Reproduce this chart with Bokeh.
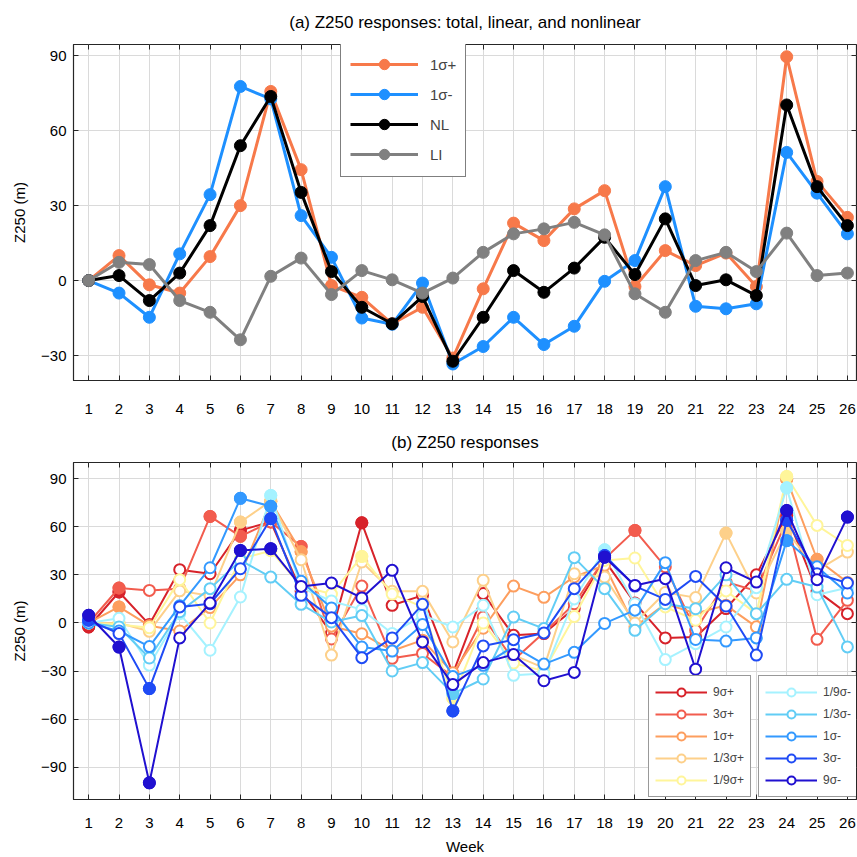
from bokeh.plotting import figure
from bokeh.models import (ColumnDataSource, Legend, LegendItem, LinearAxis, FixedTicker, Range1d)
from bokeh.layouts import column
from bokeh.embed import file_html
from bokeh.resources import INLINE

FONT = "Liberation Sans"

weeks = list(range(1, 27))

# ---------- panel (a) ----------
a_title = "(a) Z250 responses: total, linear, and nonlinear"
a_1sp = [0, 10, -1.7, -5, 9.6, 30, 75.7, 44.4, -2, -6.7, -17.3, -10.7, -31, -3.3, 23, 16, 28.7, 36, -2.4, 12, 6, 11, -2.4, 89.6, 39.7, 25.3]
a_1sm = [0, -5, -14.7, 10.7, 34.4, 77.7, 72.7, 26, 9.3, -15, -17.5, -1, -33.4, -26.4, -14.7, -25.6, -18.3, -0.3, 8, 37.6, -10.3, -11.3, -9.3, 51.3, 35, 18.7]
a_nl = [0, 2, -8, 3, 22, 54, 73.7, 35.3, 3.6, -10.7, -17.3, -6.4, -32.3, -14.7, 4, -4.7, 5, 17.3, 2.4, 24.7, -2, 0.3, -6, 70.3, 37.6, 22]
a_li = [0, 7.3, 6.4, -8, -12.7, -23.7, 1.7, 9, -5.6, 4, 0.3, -5, 1, 11.3, 18.7, 20.7, 23.3, 18.3, -5.3, -12.7, 8, 11.3, 3.6, 19, 2, 3]
a_names = ["1σ+", "1σ-", "NL", "LI"]
a_colors = ["#F7794A", "#1E90FF", "#000000", "#808080"]

# ---------- panel (b) ----------
b_title = "(b) Z250 responses"
b_names = ["9σ+", "3σ+", "1σ+", "1/3σ+", "1/9σ+", "1/9σ-", "1/3σ-", "1σ-", "3σ-", "9σ-"]
b_colors = ["#D7222A", "#F25C4E", "#FD9E5E", "#FDD08A", "#FFF59A",
            "#A5F2FF", "#62CDF5", "#3399FF", "#1F4BF5", "#2010D0"]
b_9p = [-2.5, 19.3, -1, 33.2, 30.7, 57.7, 63, 20, -6.4, 62.4, 11, 17.2, -31.5, 18.3, -7.7, -6.6, 9, 39, 12.4, -9.3, -8.7, 9, 30, 67, 20, 5.8]
b_3p = [0, 21.8, 20.3, 21.4, 66.4, 54, 63, 47.7, -10, 23, -22, -19, -33.6, 3.7, -23.2, -6, 12, 40, 57.7, 35, -4.6, 25.5, 20, 64, -10.2, 14.1]
b_1p = a_1sp
b_13p = [0, 0, -5.2, 20, 17, 62.9, 76, 39.4, -20, 38, 19.7, 19.7, -11.8, 26.6, -20, -28, 30.7, 28.6, 0, 19, 15.8, 56, 18.7, 57.3, 32.8, 44.2]
b_19p = [0, -1, -3, 27, 0, 40, 45, 23, 18, 41.5, 18, 10, -47, 0, -25, -30, 4, 39, 40.5, 10, 1.7, 20, 5.8, 91.3, 60.8, 48.3]
b_19m = [0, 2.9, -26.3, 5.8, -17, 16.2, 79.5, 22, 13.7, 8.3, -6.6, 4.8, -2.5, 11, -32.6, -31.5, 15, 45.6, 12, -22.8, -12.9, -2.5, 22, 84.2, 17.6, 22]
b_13m = [0, -2.5, -21.8, 7, 21.4, 39, 28.6, 11.6, 0.6, 4.6, -29.9, -24.7, -44, -34.9, 3.7, -3.5, 40.7, 21.4, -4.6, 12, 8.9, 30, 5.8, 27.2, 22.4, -14.9]
b_1m = a_1sm
b_3m = [1.7, -6.6, -40.9, 10, 12, 33.8, 65, 17.2, 3.3, -21.6, -9.3, 11.6, -54.8, -14.3, -10.4, -6.2, 21.4, 42, 23, 14.7, 29, 10.6, -20, 63.9, 30.7, 24.9]
b_9m = [4.8, -15, -99.6, -9.3, 12.4, 45.2, 46.3, 22.8, 24.9, 15.6, 32.8, -11.8, -38.4, -24.7, -19.7, -36, -30.8, 41, 23.4, 27.6, -28.8, 34.4, 25.5, 70.1, 27, 66]
b_values = [b_9p, b_3p, b_1p, b_13p, b_19p, b_19m, b_13m, b_1m, b_3m, b_9m]
# weeks with significant (filled) markers
b_sig = [[1, 2, 6, 10, 18, 24], [2, 5, 6, 8, 19], [2, 7, 8, 24, 25], [6, 7, 22, 24], [10, 13, 24],
         [7, 18, 24], [13], [6, 7, 24], [1, 3, 7, 13, 18, 24], [1, 2, 3, 6, 7, 18, 24, 26]]

a_yticks = [-30, 0, 30, 60, 90]
b_yticks = [-90, -60, -30, 0, 30, 60, 90]


def style(p, yticks, xstandoff, title_standoff, xlabel=None):
    p.outline_line_color = "#262626"
    p.outline_line_width = 1.2
    p.xgrid.ticker = FixedTicker(ticks=weeks)
    p.ygrid.ticker = FixedTicker(ticks=yticks)
    for g in (p.xgrid[0], p.ygrid[0]):
        g.grid_line_color = "#DADADA"
        g.grid_line_width = 1
    xa = p.xaxis[0]
    ya = p.yaxis[0]
    xa.ticker = FixedTicker(ticks=weeks)
    xa.major_label_standoff = xstandoff
    if xlabel:
        xa.axis_label = xlabel
        xa.axis_label_standoff = 7
    ya.ticker = FixedTicker(ticks=yticks)
    ya.major_label_standoff = 7
    ya.axis_label = "Z250 (m)"
    ya.axis_label_standoff = 10
    for ax in (xa, ya):
        ax.major_tick_in = 5
        ax.major_tick_out = 0
        ax.minor_tick_line_color = None
        ax.axis_line_color = "#262626"
        ax.major_tick_line_color = "#262626"
        ax.major_label_text_font = FONT
        ax.major_label_text_font_size = "15px"
        ax.major_label_text_color = "#000000"
        ax.axis_label_text_font = FONT
        ax.axis_label_text_font_size = "15px"
        ax.axis_label_text_font_style = "normal"
        ax.axis_label_text_color = "#000000"
    top = LinearAxis(ticker=FixedTicker(ticks=weeks), major_tick_in=5, major_tick_out=0,
                     minor_tick_line_color=None, axis_line_color=None,
                     major_label_overrides={w: "" for w in weeks},
                     major_label_text_font_size="1px", major_label_standoff=0,
                     major_tick_line_color="#262626")
    right = LinearAxis(ticker=FixedTicker(ticks=yticks), major_tick_in=5, major_tick_out=0,
                       minor_tick_line_color=None, axis_line_color=None,
                       major_label_overrides={t: "" for t in yticks},
                       major_label_text_font_size="1px", major_label_standoff=0,
                       major_tick_line_color="#262626")
    p.add_layout(top, "above")
    p.add_layout(right, "right")
    p.title.align = "center"
    p.title.vertical_align = "top"
    p.title.standoff = title_standoff
    p.title.text_font = FONT
    p.title.text_font_size = "17px"
    p.title.text_font_style = "normal"
    p.title.text_color = "#000000"


# ---------- figure (a) ----------
pa = figure(width=857, height=420, output_backend="svg", toolbar_location=None,
            x_range=Range1d(0.5, 26.3), y_range=Range1d(-40, 94.5),
            min_border_left=73, min_border_right=1, min_border_top=44, min_border_bottom=40,
            title=a_title)
style(pa, a_yticks, 23, 22)

a_items = []
for name, vals, col in zip(a_names, [a_1sp, a_1sm, a_nl, a_li], a_colors):
    src = ColumnDataSource(dict(x=weeks, y=vals))
    lr = pa.line("x", "y", source=src, line_color=col, line_width=3)
    sr = pa.scatter("x", "y", source=src, size=12, fill_color=col, line_color=col)
    a_items.append(LegendItem(label=name, renderers=[lr, sr]))

leg_a = Legend(items=a_items, location=(267, 203), orientation="vertical",
               glyph_width=68, glyph_height=26, label_height=26, spacing=4, padding=9,
               label_standoff=12, label_text_font=FONT, label_text_font_size="15px",
               border_line_color="#000000", border_line_width=1, background_fill_alpha=1.0)
pa.add_layout(leg_a)

# ---------- figure (b) ----------
pb = figure(width=857, height=437, output_backend="svg", toolbar_location=None,
            x_range=Range1d(0.5, 26.3), y_range=Range1d(-110, 100),
            min_border_left=73, min_border_right=1, min_border_top=42, min_border_bottom=58,
            title=b_title)
style(pb, b_yticks, 18, 18, xlabel="Week")

b_items = []
for name, vals, col, sig in zip(b_names, b_values, b_colors, b_sig):
    src = ColumnDataSource(dict(x=weeks, y=vals))
    lr = pb.line("x", "y", source=src, line_color=col, line_width=2)
    sr = pb.scatter("x", "y", source=src, size=11, fill_color="white", line_color=col, line_width=2)
    fs = ColumnDataSource(dict(x=[w for w in weeks if w in sig], y=[v for w, v in zip(weeks, vals) if w in sig]))
    pb.scatter("x", "y", source=fs, size=12, fill_color=col, line_color=col, line_width=1)
    b_items.append(LegendItem(label=name, renderers=[lr, sr]))

common = dict(orientation="vertical", glyph_width=52, glyph_height=20, label_height=20, spacing=2,
              padding=6, label_standoff=6, label_text_font=FONT, label_text_font_size="12px",
              border_line_color="#333333", border_line_width=1.5, background_fill_alpha=1.0)
leg_b1 = Legend(items=b_items[:5], location=(575, 2), **common)
leg_b2 = Legend(items=b_items[5:], location=(685, 2), **common)
pb.add_layout(leg_b1)
pb.add_layout(leg_b2)

layout = column(pa, pb, spacing=0)
open("out.html", "w").write(file_html(layout, INLINE))
